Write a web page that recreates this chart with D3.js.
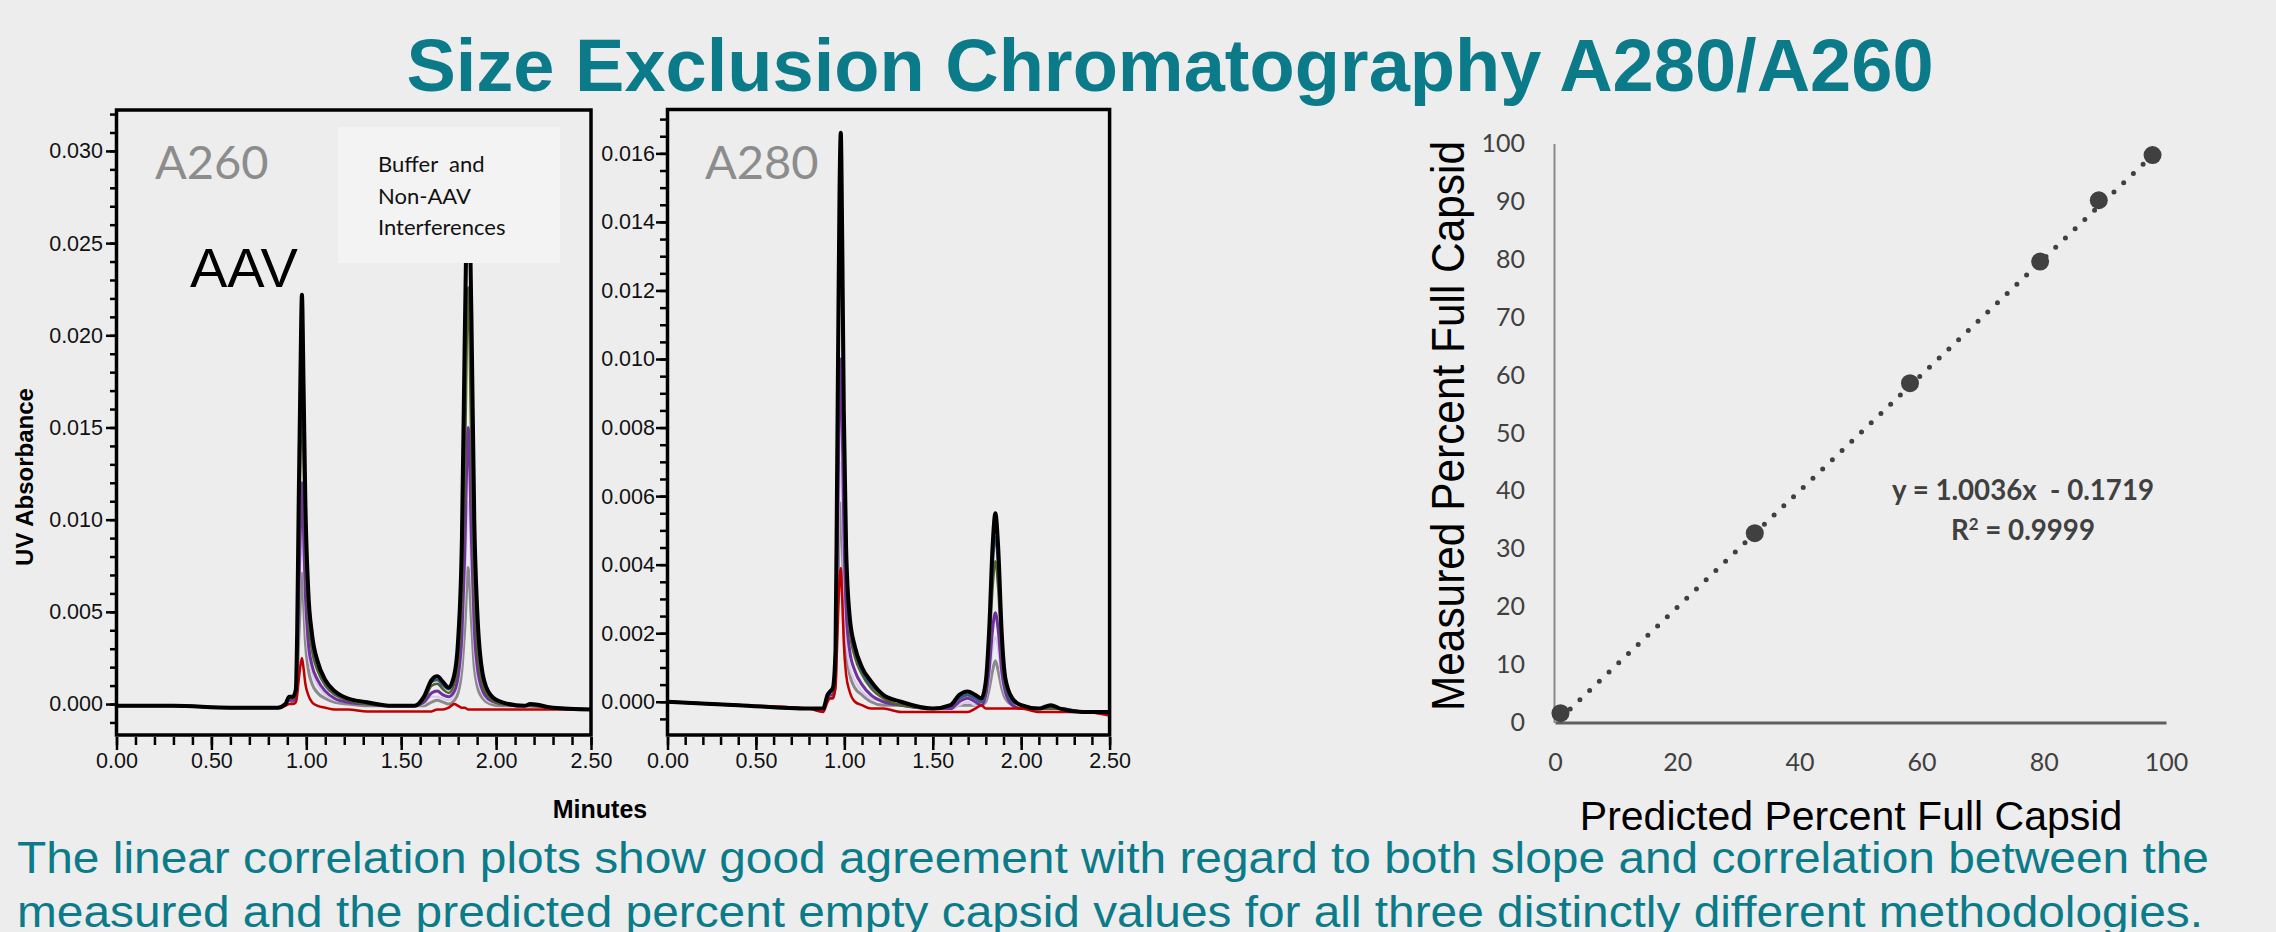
<!DOCTYPE html>
<html>
<head>
<meta charset="utf-8">
<script src="https://cdn.jsdelivr.net/npm/d3@7"></script>
<style>
  body { margin: 0; background: #ededed; }
  svg { display: block; }
  text { font-family: "Liberation Sans", Arial, sans-serif; }
</style>
</head>
<body>
<svg id="chart"></svg>
<script>
var width = 2276;
var height = 932;
var teal = "#0b7b8a";

// ---- A260 chromatogram (time in minutes, absorbance) ----
var t260 = [0, 0.3, 0.6, 0.85, 0.89, 0.91, 0.93, 0.945, 0.952, 0.96, 0.968, 0.977, 0.986, 0.995, 1.01, 1.03, 1.06, 1.1, 1.15, 1.22, 1.32, 1.45, 1.57, 1.62, 1.66, 1.69, 1.72, 1.75, 1.78, 1.8, 1.82, 1.835, 1.853, 1.87, 1.885, 1.9, 1.93, 1.97, 2.03, 2.15, 2.18, 2.3, 2.5];
var a260Black = [-0.0001,-0.0001,-0.0002,-0.0002,0.0000,0.0004,0.0004,0.0008,0.0040,0.0110,0.0170,0.0222,0.0170,0.0110,0.0062,0.0038,0.0023,0.0013,0.0007,0.0003,0.0001,-0.0001,-0.0001,0.0004,0.0013,0.0015,0.0012,0.0009,0.0016,0.0035,0.0090,0.0200,0.0290,0.0210,0.0100,0.0052,0.0016,0.0005,0.0001,-0.0001,0.0000,-0.0002,-0.0003];
var a260Blue = [-0.0001,-0.0001,-0.0002,-0.0002,0.0000,0.0004,0.0004,0.0007,0.0036,0.0100,0.0156,0.0205,0.0156,0.0100,0.0057,0.0035,0.0021,0.0012,0.0006,0.0003,0.0001,-0.0001,-0.0001,0.0003,0.0012,0.0013,0.0010,0.0008,0.0015,0.0033,0.0086,0.0190,0.0275,0.0200,0.0095,0.0048,0.0015,0.0005,0.0001,-0.0001,0.0000,-0.0002,-0.0003];
var a260Olive = [-0.0001,-0.0001,-0.0002,-0.0002,0.0000,0.0003,0.0003,0.0006,0.0030,0.0082,0.0128,0.0167,0.0128,0.0083,0.0047,0.0029,0.0018,0.0010,0.0005,0.0002,0.0000,-0.0001,-0.0001,0.0002,0.0010,0.0011,0.0008,0.0006,0.0011,0.0023,0.0058,0.0125,0.0226,0.0135,0.0062,0.0032,0.0010,0.0003,0.0000,-0.0001,-0.0001,-0.0002,-0.0003];
var a260Purple = [-0.0001,-0.0001,-0.0002,-0.0002,0.0000,0.0002,0.0002,0.0004,0.0022,0.0059,0.0092,0.0120,0.0092,0.0060,0.0034,0.0021,0.0013,0.0007,0.0003,0.0001,0.0000,-0.0001,-0.0001,0.0001,0.0006,0.0007,0.0005,0.0004,0.0007,0.0015,0.0038,0.0083,0.0150,0.0090,0.0041,0.0021,0.0007,0.0002,0.0000,-0.0001,-0.0001,-0.0002,-0.0003];
var a260Lavender = [-0.0001,-0.0001,-0.0002,-0.0002,0.0000,0.0002,0.0002,0.0003,0.0017,0.0047,0.0073,0.0095,0.0073,0.0047,0.0027,0.0017,0.0010,0.0005,0.0002,0.0001,0.0000,-0.0001,-0.0001,0.0000,0.0004,0.0004,0.0003,0.0002,0.0005,0.0011,0.0028,0.0061,0.0110,0.0066,0.0030,0.0015,0.0005,0.0001,0.0000,-0.0001,-0.0001,-0.0002,-0.0003];
var a260Gray = [-0.0001,-0.0001,-0.0002,-0.0002,0.0000,0.0002,0.0001,0.0002,0.0012,0.0034,0.0054,0.0071,0.0054,0.0034,0.0019,0.0011,0.0006,0.0003,0.0001,0.0000,-0.0001,-0.0001,-0.0001,-0.0001,0.0001,0.0002,0.0001,0.0000,0.0002,0.0006,0.0019,0.0041,0.0074,0.0045,0.0020,0.0010,0.0003,0.0000,-0.0001,-0.0001,-0.0001,-0.0002,-0.0003];
var a260Red = [-0.0001,-0.0001,-0.0002,-0.0002,-0.0001,0.0000,0.0000,0.0001,0.0005,0.0013,0.0020,0.0025,0.0019,0.0011,0.0005,0.0001,-0.0001,-0.0002,-0.0003,-0.0003,-0.0004,-0.0004,-0.0004,-0.0004,-0.0004,-0.0003,-0.0003,-0.0002,0.0000,-0.0001,-0.0002,-0.0002,-0.0003,-0.0003,-0.0003,-0.0003,-0.0003,-0.0003,-0.0003,-0.0003,-0.0003,-0.0003,-0.0003];

// ---- A280 chromatogram ----
var t280 = [0, 0.4, 0.8, 0.88, 0.905, 0.92, 0.935, 0.95, 0.958, 0.966, 0.973, 0.98, 0.988, 0.997, 1.01, 1.03, 1.06, 1.1, 1.15, 1.22, 1.32, 1.5, 1.6, 1.65, 1.697, 1.74, 1.775, 1.8, 1.82, 1.838, 1.854, 1.87, 1.89, 1.91, 1.95, 2.0, 2.1, 2.167, 2.22, 2.35, 2.5];
var a280Black = [0.0000,-0.0001,-0.0002,-0.0002,0.0002,0.0003,0.0004,0.0015,0.0060,0.0110,0.0150,0.0166,0.0135,0.0085,0.0045,0.0025,0.0016,0.0010,0.0006,0.0002,0.0000,-0.0002,-0.0001,0.0002,0.0003,0.0002,0.0001,0.0006,0.0022,0.0045,0.0055,0.0045,0.0020,0.0007,0.0001,-0.0001,-0.0002,-0.0001,-0.0002,-0.0003,-0.0003];
var a280Blue = [0.0000,-0.0001,-0.0002,-0.0002,0.0002,0.0003,0.0004,0.0014,0.0058,0.0106,0.0145,0.0160,0.0130,0.0082,0.0043,0.0024,0.0015,0.0009,0.0005,0.0002,0.0000,-0.0002,-0.0001,0.0001,0.0002,0.0001,0.0000,0.0005,0.0019,0.0039,0.0048,0.0039,0.0017,0.0006,0.0000,-0.0001,-0.0002,-0.0001,-0.0002,-0.0003,-0.0003];
var a280Olive = [0.0000,-0.0001,-0.0002,-0.0002,0.0002,0.0003,0.0003,0.0012,0.0050,0.0092,0.0127,0.0140,0.0114,0.0072,0.0038,0.0021,0.0013,0.0008,0.0004,0.0001,-0.0001,-0.0002,-0.0001,0.0001,0.0002,0.0001,0.0000,0.0004,0.0016,0.0033,0.0041,0.0033,0.0014,0.0005,0.0000,-0.0001,-0.0002,-0.0002,-0.0002,-0.0003,-0.0003];
var a280Purple = [0.0000,-0.0001,-0.0002,-0.0002,0.0001,0.0002,0.0002,0.0009,0.0036,0.0066,0.0091,0.0100,0.0081,0.0051,0.0027,0.0015,0.0009,0.0005,0.0002,0.0000,-0.0001,-0.0002,-0.0002,0.0000,0.0001,0.0000,-0.0001,0.0002,0.0010,0.0021,0.0026,0.0021,0.0009,0.0003,-0.0001,-0.0002,-0.0002,-0.0002,-0.0002,-0.0003,-0.0003];
var a280Lavender = [0.0000,-0.0001,-0.0002,-0.0002,0.0001,0.0002,0.0002,0.0007,0.0025,0.0046,0.0064,0.0070,0.0057,0.0036,0.0019,0.0010,0.0006,0.0003,0.0001,0.0000,-0.0001,-0.0002,-0.0002,-0.0001,0.0000,-0.0001,-0.0001,0.0001,0.0007,0.0015,0.0019,0.0015,0.0006,0.0002,-0.0001,-0.0002,-0.0002,-0.0002,-0.0002,-0.0003,-0.0003];
var a280Gray = [0.0000,-0.0001,-0.0002,-0.0002,0.0001,0.0001,0.0001,0.0006,0.0021,0.0038,0.0052,0.0058,0.0047,0.0030,0.0016,0.0008,0.0004,0.0002,0.0000,-0.0001,-0.0001,-0.0002,-0.0002,-0.0001,-0.0001,-0.0001,-0.0001,0.0000,0.0004,0.0009,0.0012,0.0009,0.0004,0.0001,-0.0001,-0.0002,-0.0002,-0.0002,-0.0002,-0.0003,-0.0003];
var a280Red = [0.0000,-0.0001,-0.0002,-0.0003,0.0000,0.0001,0.0001,0.0004,0.0015,0.0027,0.0036,0.0039,0.0030,0.0017,0.0008,0.0003,0.0000,-0.0001,-0.0002,-0.0002,-0.0003,-0.0003,-0.0003,-0.0003,-0.0003,-0.0002,-0.0001,-0.0002,-0.0002,-0.0002,-0.0002,-0.0002,-0.0002,-0.0002,-0.0002,-0.0002,-0.0003,-0.0003,-0.0003,-0.0003,-0.0004];

// draw order (black last, on top)
var traceOrder = ["gray", "lavender", "purple", "olive", "blue", "red", "black"];
var traceColors = { black: "#000000", blue: "#2e5c8a", olive: "#4f6228", purple: "#7030a0", lavender: "#d9cbef", gray: "#8a8a8a", red: "#c00000" };
var traceWidths = { black: 4, blue: 2.5, olive: 2.5, purple: 3, lavender: 2, gray: 3, red: 2.5 };

var a260Ticks = [0, 0.005, 0.010, 0.015, 0.020, 0.025, 0.030];
var a280Ticks = [0, 0.002, 0.004, 0.006, 0.008, 0.010, 0.012, 0.014, 0.016];
var minuteTicks = [0, 0.5, 1.0, 1.5, 2.0, 2.5];

// ---- correlation plot ----
var predicted = [0.9, 32.7, 58.1, 79.4, 89.0, 97.8];
var measured = [1.6, 32.7, 58.6, 79.6, 90.2, 98.0];
var fitSlope = 1.0036;
var fitIntercept = -0.1719;
var scatterYTicks = [0, 10, 20, 30, 40, 50, 60, 70, 80, 90, 100];
var scatterXTicks = [0, 20, 40, 60, 80, 100];

var svg = d3.select("#chart")
    .attr("width", width)
    .attr("height", height);

svg.append("rect")
    .attr("width", width)
    .attr("height", height)
    .attr("fill", "#ededed");

svg.append("text")
    .attr("x", 1170)
    .attr("y", 91)
    .attr("text-anchor", "middle")
    .attr("font-size", 74)
    .attr("font-weight", "bold")
    .attr("fill", teal)
    .text("Size Exclusion Chromatography A280/A260");

var bottom = 735;

function drawPanel(p) {
    var x = d3.scaleLinear().domain([0, 2.5]).range([p.left, p.right]);
    var y = d3.scaleLinear().domain(p.yDomain).range([bottom, p.top]);
    var g = svg.append("g");

    g.append("clipPath")
        .attr("id", "clip" + p.id)
      .append("rect")
        .attr("x", p.left)
        .attr("y", p.top)
        .attr("width", p.right - p.left)
        .attr("height", bottom - p.top);

    var line = d3.line()
        .curve(d3.curveMonotoneX)
        .x(d => x(d[0]))
        .y(d => y(d[1]));

    var traces = g.append("g").attr("clip-path", "url(#clip" + p.id + ")");
    traceOrder.forEach(function (name) {
        traces.append("path")
            .datum(d3.zip(p.time, p.series[name]))
            .attr("d", line)
            .attr("fill", "none")
            .attr("stroke", traceColors[name])
            .attr("stroke-width", traceWidths[name])
            .attr("stroke-linejoin", "round");
    });

    if (p.extra) p.extra(g);

    g.append("rect")
        .attr("x", p.left)
        .attr("y", p.top)
        .attr("width", p.right - p.left)
        .attr("height", bottom - p.top)
        .attr("fill", "none")
        .attr("stroke", "#000")
        .attr("stroke-width", 3.5);

    // y axis: minor + major ticks
    var yMinor = d3.axisLeft(y).tickValues(p.yMinor).tickFormat("").tickSize(p.yMinorLen);
    var yMajor = d3.axisLeft(y).tickValues(p.yTicks).tickFormat(d3.format(".3f"))
        .tickSize(p.yMajorLen).tickPadding(p.yPad);
    [yMinor, yMajor].forEach(function (ax) {
        var a = g.append("g").attr("transform", `translate(${p.left - 1.5},0)`).call(ax);
        a.select(".domain").remove();
        a.selectAll("line").attr("stroke", "#000").attr("stroke-width", 2.5);
        a.selectAll("text").attr("font-size", 21.5).attr("fill", "#111")
            .style("font-family", "'Liberation Sans', Arial, sans-serif");
    });

    // x axis below the frame
    var xMinor = d3.axisBottom(x).tickValues(d3.range(0, 2.51, 0.1)).tickFormat("").tickSize(8);
    var xMajor = d3.axisBottom(x).tickValues(minuteTicks).tickFormat(d3.format(".2f"))
        .tickSize(13).tickPadding(3);
    [xMinor, xMajor].forEach(function (ax) {
        var a = g.append("g").attr("transform", `translate(0,${bottom + 2})`).call(ax);
        a.select(".domain").remove();
        a.selectAll("line").attr("stroke", "#000").attr("stroke-width", 2.5);
        a.selectAll("text").attr("font-size", 21.5).attr("fill", "#111")
            .style("font-family", "'Liberation Sans', Arial, sans-serif");
    });

    g.append("text")
        .attr("x", p.tagX)
        .attr("y", 179)
        .attr("font-size", 47)
        .attr("fill", "#8c8c8c")
        .style("font-family", "Lato, sans-serif")
        .text(p.tag);
}

drawPanel({
    id: "a260", left: 116.5, right: 591, top: 110,
    yDomain: [-0.00168, 0.03222],
    time: t260,
    series: { black: a260Black, blue: a260Blue, olive: a260Olive, purple: a260Purple, lavender: a260Lavender, gray: a260Gray, red: a260Red },
    yTicks: a260Ticks,
    yMinor: d3.range(-0.001, 0.0325, 0.001),
    yMinorLen: 5, yMajorLen: 9, yPad: 3,
    tag: "A260", tagX: 155,
    extra: function (g) {
        g.append("rect")
            .attr("x", 338).attr("y", 127)
            .attr("width", 222).attr("height", 136)
            .attr("fill", "#f3f3f3");
        var lines = ["Buffer  and", "Non-AAV", "Interferences"];
        g.selectAll(".buf").data(lines).enter().append("text")
            .attr("x", 378)
            .attr("y", (d, i) => 172 + i * 31.5)
            .attr("font-size", 22)
            .attr("fill", "#111")
            .style("font-family", "Lato, sans-serif")
            .style("white-space", "pre")
            .text(d => d);
        g.append("text")
            .attr("x", 190)
            .attr("y", 287)
            .attr("font-size", 56)
            .attr("fill", "#000")
            .text("AAV");
    }
});

drawPanel({
    id: "a280", left: 667.5, right: 1109.6, top: 109.5,
    yDomain: [-0.00097, 0.01728],
    time: t280,
    series: { black: a280Black, blue: a280Blue, olive: a280Olive, purple: a280Purple, lavender: a280Lavender, gray: a280Gray, red: a280Red },
    yTicks: a280Ticks,
    yMinor: d3.range(-0.0005, 0.01726, 0.0005),
    yMinorLen: 6, yMajorLen: 10, yPad: 1,
    tag: "A280", tagX: 705
});

svg.append("text")
    .attr("transform", "translate(33,477) rotate(-90)")
    .attr("text-anchor", "middle")
    .attr("font-size", 24)
    .attr("font-weight", "bold")
    .text("UV Absorbance");

svg.append("text")
    .attr("x", 600)
    .attr("y", 818)
    .attr("text-anchor", "middle")
    .attr("font-size", 25)
    .attr("font-weight", "bold")
    .text("Minutes");

// ---- correlation scatter ----
var sx = d3.scaleLinear().domain([0, 100]).range([1555, 2166]);
var sy = d3.scaleLinear().domain([0, 100]).range([722.5, 143.5]);

var yAx = svg.append("g")
    .attr("transform", "translate(1554,0)")
    .call(d3.axisLeft(sy).tickValues(scatterYTicks).tickSize(0).tickSizeOuter(0).tickPadding(29));
yAx.select(".domain").attr("stroke", "#8a8a8a").attr("stroke-width", 2);

var xAx = svg.append("g")
    .attr("transform", "translate(0,722.5)")
    .call(d3.axisBottom(sx).tickValues(scatterXTicks).tickSize(0).tickSizeOuter(0).tickPadding(31));
xAx.select(".domain").attr("stroke", "#5f5f5f").attr("stroke-width", 3);

[yAx, xAx].forEach(function (a) {
    a.selectAll("text")
        .attr("font-size", 25)
        .attr("fill", "#404040")
        .style("font-family", "Lato, sans-serif");
});

var fitEnds = [d3.min(predicted), d3.max(predicted)];
svg.append("line")
    .attr("x1", sx(fitEnds[0]))
    .attr("y1", sy(fitSlope * fitEnds[0] + fitIntercept))
    .attr("x2", sx(fitEnds[1]))
    .attr("y2", sy(fitSlope * fitEnds[1] + fitIntercept))
    .attr("stroke", "#404040")
    .attr("stroke-width", 5)
    .attr("stroke-linecap", "round")
    .attr("stroke-dasharray", "0 13.4");

svg.selectAll(".pt")
    .data(d3.zip(predicted, measured))
  .enter()
  .append("circle")
    .attr("cx", d => sx(d[0]))
    .attr("cy", d => sy(d[1]))
    .attr("r", 9)
    .attr("fill", "#404040");

svg.append("text")
    .attr("x", 1892)
    .attr("y", 500)
    .attr("font-size", 28)
    .attr("font-weight", "bold")
    .attr("fill", "#404040")
    .attr("textLength", 262)
    .attr("lengthAdjust", "spacingAndGlyphs")
    .style("font-family", "Lato, sans-serif")
    .style("white-space", "pre")
    .text("y = 1.0036x  - 0.1719");

var r2 = svg.append("text")
    .attr("x", 1951)
    .attr("y", 540)
    .attr("font-size", 28)
    .attr("font-weight", "bold")
    .attr("fill", "#404040")
    .attr("textLength", 144)
    .attr("lengthAdjust", "spacingAndGlyphs")
    .style("font-family", "Lato, sans-serif");
r2.append("tspan").text("R");
r2.append("tspan").attr("dy", -10).attr("font-size", 17).text("2");
r2.append("tspan").attr("dy", 10).text(" = 0.9999");

svg.append("text")
    .attr("transform", "translate(1464,426) rotate(-90)")
    .attr("text-anchor", "middle")
    .attr("font-size", 47)
    .attr("textLength", 570)
    .attr("lengthAdjust", "spacingAndGlyphs")
    .attr("fill", "#000")
    .text("Measured Percent Full Capsid");

svg.append("text")
    .attr("x", 1851)
    .attr("y", 830)
    .attr("text-anchor", "middle")
    .attr("font-size", 41)
    .attr("fill", "#000")
    .text("Predicted Percent Full Capsid");

// ---- caption ----
var caption = [
    "The linear correlation plots show good agreement with regard to both slope and correlation between the",
    "measured and the predicted percent empty capsid values for all three distinctly different methodologies."
];
var captionWidths = [2192, 2186];
svg.selectAll(".cap")
    .data(caption)
  .enter()
  .append("text")
    .attr("x", 17)
    .attr("y", (d, i) => 873 + i * 54)
    .attr("font-size", 45)
    .attr("fill", teal)
    .attr("textLength", (d, i) => captionWidths[i])
    .attr("lengthAdjust", "spacingAndGlyphs")
    .text(d => d);
</script>
</body>
</html>
